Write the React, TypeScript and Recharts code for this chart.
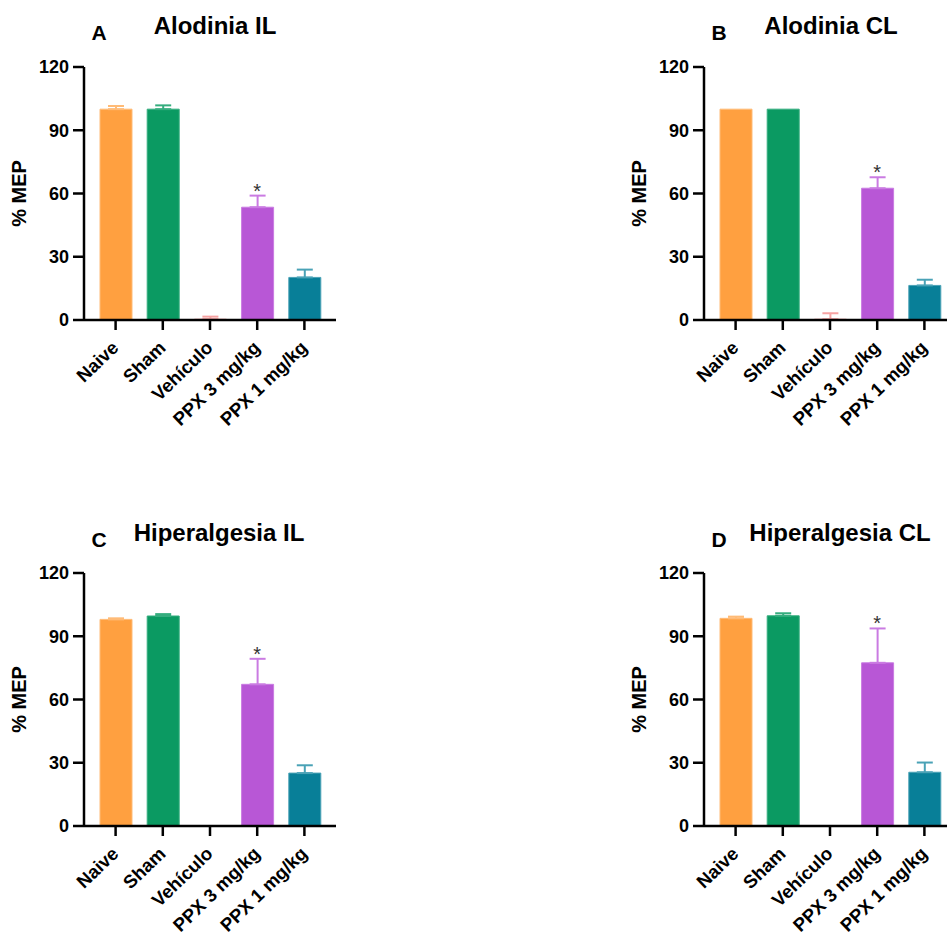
import React from "react";
import {
  BarChart,
  Bar,
  Cell,
  XAxis,
  YAxis,
  ErrorBar,
  ReferenceDot,
} from "recharts";

const CATEGORIES = ["Naive", "Sham", "Vehículo", "PPX 3 mg/kg", "PPX 1 mg/kg"];
const Y_TICKS = [0, 30, 60, 90, 120];

const ALODINIA_IL_MEAN = [100, 100, 0.4, 53.5, 20.2];
const ALODINIA_IL_SEM = [1.5, 1.8, 1.2, 5.5, 3.7];

const ALODINIA_CL_MEAN = [100, 100, 0.4, 62.5, 16.4];
const ALODINIA_CL_SEM = [0, 0, 2.8, 5.2, 2.7];

const HIPERALGESIA_IL_MEAN = [98.0, 99.6, 0, 67.2, 25.1];
const HIPERALGESIA_IL_SEM = [0.5, 0.9, 0, 12.1, 3.7];

const HIPERALGESIA_CL_MEAN = [98.5, 99.7, 0, 77.4, 25.5];
const HIPERALGESIA_CL_SEM = [0.8, 1.2, 0, 16.3, 4.6];

// index of the bar marked with "*"
const STAR_INDEX = 3;

const BAR_COLORS = ["#FFA040", "#0B9A62", "#F0605D", "#B857D6", "#087F98"];
const ERR_COLORS = ["#FFBB77", "#35AD7E", "#F7A3A3", "#CA7BE2", "#4AA2B6"];

const FONT = '"Liberation Sans", Arial, Helvetica, sans-serif';

type Row = { name: string; mean: number; [k: string]: any };

function buildRows(means: number[], sems: number[]): Row[] {
  return CATEGORIES.map((name, i) => {
    const row: Row = { name, mean: means[i] };
    // each category gets its own error key so it can carry its own colour
    if (sems[i] > 0) row[`err${i}`] = [0, sems[i]];
    return row;
  });
}

function XTick({ x, y, payload }: any) {
  return (
    <g transform={`translate(${x + 4},${y + 17})`}>
      <text
        textAnchor="end"
        transform="rotate(-44)"
        fontFamily={FONT}
        fontWeight={700}
        fontSize={18.5}
        fill="#000"
      >
        {payload.value}
      </text>
    </g>
  );
}

function Panel({ means, sems }: { means: number[]; sems: number[] }) {
  const rows = buildRows(means, sems);
  return (
    <BarChart
      width={340}
      height={440}
      data={rows}
      margin={{ top: 67, right: 4, left: 0, bottom: 0 }}
      barSize={32}
    >
      <XAxis
        dataKey="name"
        interval={0}
        height={120}
        padding={{ left: 8, right: 8 }}
        axisLine={{ stroke: "#000", strokeWidth: 2.5 }}
        tickLine={{ stroke: "#000", strokeWidth: 2.5 }}
        tickSize={10}
        tick={<XTick />}
      />
      <YAxis
        width={84}
        domain={[0, 120]}
        ticks={Y_TICKS}
        allowDataOverflow
        axisLine={{ stroke: "#000", strokeWidth: 2.5 }}
        tickLine={{ stroke: "#000", strokeWidth: 2.5 }}
        tickSize={11}
        tickMargin={4}
        tick={{ fill: "#000", fontSize: 18, fontWeight: 700, fontFamily: FONT }}
        label={{
          content: ({ viewBox }: any) => (
            <text
              transform={`translate(${viewBox.x + 19},${viewBox.y + viewBox.height / 2}) rotate(-90)`}
              textAnchor="middle"
              dominantBaseline="central"
              fontFamily={FONT}
              fontWeight={700}
              fontSize={20}
              fill="#000"
            >
              % MEP
            </text>
          ),
        }}
      />
      <Bar dataKey="mean" isAnimationActive={false}>
        {rows.map((r, i) => (
          <Cell key={r.name} fill={BAR_COLORS[i]} stroke={ERR_COLORS[i]} strokeWidth={1} />
        ))}
        {CATEGORIES.map((c, i) => (
          <ErrorBar
            key={c}
            dataKey={`err${i}`}
            width={8}
            stroke={ERR_COLORS[i]}
            strokeWidth={2}
            isAnimationActive={false}
          />
        ))}
      </Bar>
      <ReferenceDot
        x={CATEGORIES[STAR_INDEX]}
        y={means[STAR_INDEX] + sems[STAR_INDEX]}
        r={0}
        ifOverflow="visible"
        label={{
          value: "*",
          position: "top",
          offset: -2,
          fill: "#333",
          fontSize: 20,
          fontFamily: FONT,
        }}
      />
    </BarChart>
  );
}

const TITLES = [
  { letter: "A", title: "Alodinia IL", lx: 99, ly: 40, tx: 215, ty: 34 },
  { letter: "B", title: "Alodinia CL", lx: 719, ly: 40, tx: 831, ty: 34 },
  { letter: "C", title: "Hiperalgesia IL", lx: 99, ly: 547, tx: 219, ty: 541 },
  { letter: "D", title: "Hiperalgesia CL", lx: 719, ly: 547, tx: 840, ty: 541 },
];

export default function App() {
  return (
    <div
      style={{
        position: "absolute",
        left: 0,
        top: 0,
        width: 947,
        height: 933,
        overflow: "hidden",
        background: "#fff",
      }}
    >
      <div style={{ position: "absolute", left: 0, top: 0 }}>
        <Panel means={ALODINIA_IL_MEAN} sems={ALODINIA_IL_SEM} />
      </div>
      <div style={{ position: "absolute", left: 620, top: 0 }}>
        <Panel means={ALODINIA_CL_MEAN} sems={ALODINIA_CL_SEM} />
      </div>
      <div style={{ position: "absolute", left: 0, top: 506 }}>
        <Panel means={HIPERALGESIA_IL_MEAN} sems={HIPERALGESIA_IL_SEM} />
      </div>
      <div style={{ position: "absolute", left: 620, top: 506 }}>
        <Panel means={HIPERALGESIA_CL_MEAN} sems={HIPERALGESIA_CL_SEM} />
      </div>
      <svg
        width={947}
        height={933}
        style={{ position: "absolute", left: 0, top: 0, pointerEvents: "none" }}
      >
        {TITLES.map((t) => (
          <g key={t.letter} fontFamily={FONT} fontWeight={700} fill="#000">
            <text x={t.lx} y={t.ly} textAnchor="middle" fontSize={21}>
              {t.letter}
            </text>
            <text x={t.tx} y={t.ty} textAnchor="middle" fontSize={24}>
              {t.title}
            </text>
          </g>
        ))}
      </svg>
    </div>
  );
}
